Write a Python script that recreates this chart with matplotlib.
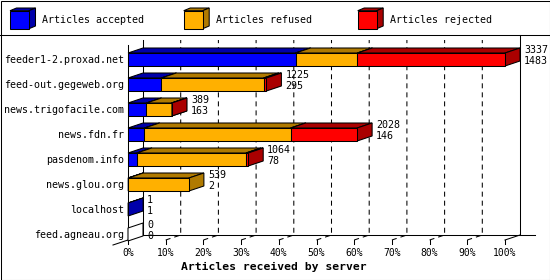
import matplotlib
matplotlib.use("Agg")
import matplotlib.pyplot as plt
from matplotlib.patches import Polygon, Rectangle

# ---------------- data ----------------
hosts = ["feeder1-2.proxad.net", "feed-out.gegeweb.org", "news.trigofacile.com",
         "news.fdn.fr", "pasdenom.info", "news.glou.org", "localhost", "feed.agneau.org"]
accepted = [1483, 295, 163, 146, 78, 2, 1, 0]
refused = [547, 906, 223, 1294, 967, 537, 0, 0]
rejected = [1307, 24, 3, 588, 19, 0, 0, 0]
totals = [3337, 1225, 389, 2028, 1064, 539, 1, 0]
series_names = ["Articles accepted", "Articles refused", "Articles rejected"]
tick_values = [0, 10, 20, 30, 40, 50, 60, 70, 80, 90, 100]
tick_labels = ["0%", "10%", "20%", "30%", "40%", "50%", "60%", "70%", "80%", "90%", "100%"]
x_title = "Articles received by server"

# ---------------- style ----------------
front_colors = ["#0000ff", "#ffb000", "#ff0000"]
dark_colors = ["#0000aa", "#b07a00", "#aa0000"]
FONT = "DejaVu Sans Mono"
plt.rcParams["lines.scale_dashes"] = False
LW = 0.75

W, H = 550, 280
fig = plt.figure(figsize=(W / 100, H / 100), dpi=100)
fig.patch.set_facecolor("white")

# overlay in pixel coordinates for frame / legend / title
ov = fig.add_axes([0, 0, 1, 1])
ov.set_xlim(0, W)
ov.set_ylim(H, 0)
ov.axis("off")

# data axes
L, R, T, B = 128, 505, 45, 240
row0, pitch = 59.5, 25.0
ax = fig.add_axes([L / W, (H - B) / H, (R - L) / W, (B - T) / H])
ax.set_xlim(0, 100)
ax.set_ylim((B - row0) / pitch, (T - row0) / pitch)
ax.axis("off")


def py(pix):
    return (pix - row0) / pitch


px_per_unit = (R - L) / 100.0
DX = 15 / px_per_unit
DY = 5 / pitch
HH = 6.5 / pitch

# frame and legend separator
ov.add_patch(Rectangle((0.5, 0.5), W - 1, H - 1, fill=False, ec="black", lw=LW))
ov.plot([0, W], [35, 35], color="black", lw=LW)

# legend
leg_x = [10, 183.7, 357.7]
for j, name in enumerate(series_names):
    x0 = leg_x[j]
    top, bot, w, dx, dy = 10.7, 28.7, 19, 6.5, 2.7
    ov.add_patch(Polygon([(x0, top), (x0 + w, top), (x0 + w + dx, top - dy), (x0 + dx, top - dy)],
                         closed=True, fc=dark_colors[j], ec="black", lw=LW))
    ov.add_patch(Polygon([(x0 + w, top), (x0 + w + dx, top - dy), (x0 + w + dx, bot - dy), (x0 + w, bot)],
                         closed=True, fc=dark_colors[j], ec="black", lw=LW))
    ov.add_patch(Rectangle((x0, top), w, bot - top, fc=front_colors[j], ec="black", lw=LW))
    ov.text(x0 + 32, 20, name, family=FONT, fontsize=7.2, va="center", ha="left")

ov.text(273.5, 267, x_title, family=FONT, fontsize=8.2, fontweight="bold", ha="center", va="center")

# walls, floor, grid
kw = dict(color="black", lw=LW, clip_on=False, zorder=1)
ax.plot([0, 0], [py(45), py(240)], **kw)
ax.plot([DX, DX], [py(40), py(235)], **kw)
ax.plot([100 + DX, 100 + DX], [py(35), py(235)], **kw)
ax.plot([DX, 100 + 2 * DX], [py(235), py(235)], **kw)
ax.plot([-DX, DX], [py(245), py(235)], **kw)
ax.plot([100, 100 + DX], [py(240), py(235)], **kw)
for v in tick_values:
    ax.plot([v, v], [py(240), py(244)], **kw)
    if 0 < v < 100:
        ax.plot([v, v + DX, v + DX], [py(240), py(235), py(40)], color="black", lw=LW,
                ls=(0, (3.6, 2.9)), clip_on=False, zorder=1)
for v, lab in zip(tick_values, tick_labels):
    ax.text(v, py(253), lab, family=FONT, fontsize=7, ha="center", va="center", clip_on=False)

# bars
vmax = max(totals)
series = [accepted, refused, rejected]
for i, host in enumerate(hosts):
    yc = i
    ax.text(-4 / px_per_unit, yc, host, family=FONT, fontsize=7.2, ha="right", va="center", clip_on=False)
    cum = 0.0
    last = None
    for j, s in enumerate(series):
        v = s[i]
        if v <= 0:
            continue
        x0 = cum / vmax * 100
        x1 = (cum + v) / vmax * 100
        cum += v
        last = j
        ax.add_patch(Polygon([(x0, yc - HH), (x1, yc - HH), (x1 + DX, yc - HH - DY), (x0 + DX, yc - HH - DY)],
                             closed=True, fc=dark_colors[j], ec="black", lw=LW, clip_on=False, zorder=3))
        ax.add_patch(Polygon([(x1, yc - HH), (x1 + DX, yc - HH - DY), (x1 + DX, yc + HH - DY), (x1, yc + HH)],
                             closed=True, fc=dark_colors[j], ec="black", lw=LW, clip_on=False, zorder=3))
        ax.add_patch(Rectangle((x0, yc - HH), x1 - x0, 2 * HH, fc=front_colors[j], ec="black", lw=LW,
                               clip_on=False, zorder=3))
    if last is None:
        ax.add_patch(Polygon([(0, yc - HH), (DX, yc - HH - DY), (DX, yc + HH - DY), (0, yc + HH)],
                             closed=True, fc="white", ec="black", lw=LW, clip_on=False, zorder=3))
    xe = totals[i] / vmax * 100 + DX + 4 / px_per_unit
    ax.text(xe, yc - 9.5 / pitch, str(totals[i]), family=FONT, fontsize=7.2, ha="left", va="center",
            clip_on=False, zorder=4)
    ax.text(xe, yc + 1.5 / pitch, str(accepted[i]), family=FONT, fontsize=7.2, ha="left", va="center",
            clip_on=False, zorder=4)

fig.savefig("out.png", dpi=100, facecolor="white")
